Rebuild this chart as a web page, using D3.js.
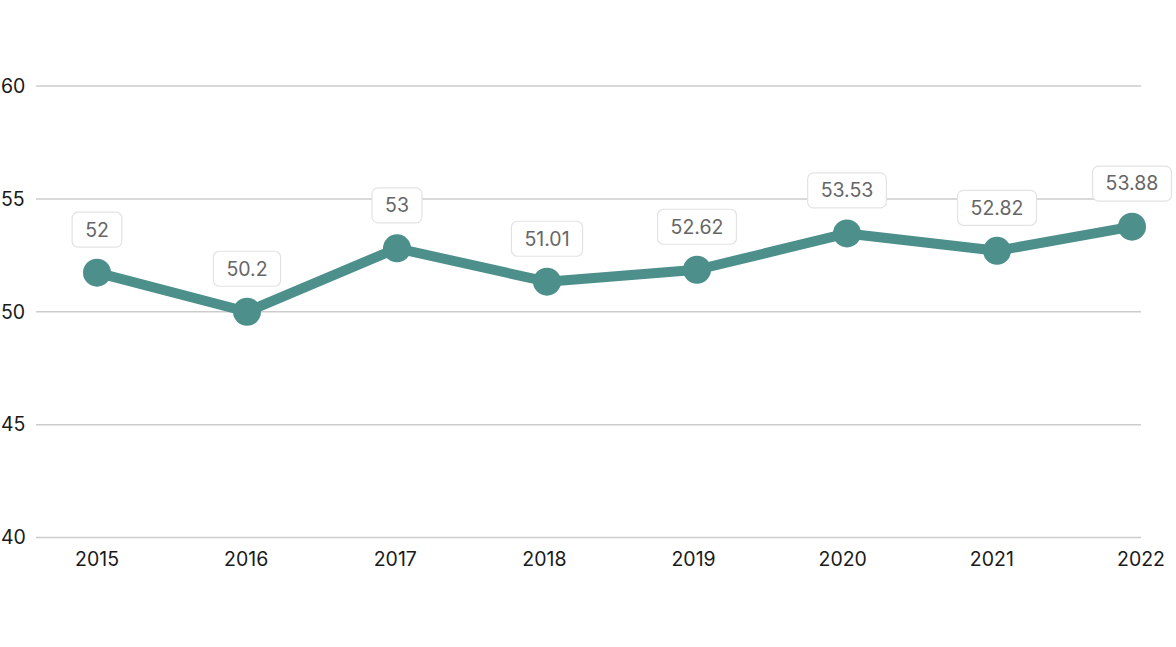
<!DOCTYPE html>
<html>
<head>
<meta charset="utf-8">
<script src="https://cdn.jsdelivr.net/npm/d3@7"></script>
<style>
  html, body { margin: 0; padding: 0; background: #fff; }
  svg { display: block; font-family: Inter, "Noto Sans", sans-serif; }
</style>
</head>
<body>
<svg id="chart" width="1176" height="647"></svg>
<script>
const years = ["2015", "2016", "2017", "2018", "2019", "2020", "2021", "2022"];
const plotted = [51.73, 50.0, 52.81, 51.33, 51.86, 53.47, 52.70, 53.77];
const labels = ["52", "50.2", "53", "51.01", "52.62", "53.53", "52.82", "53.88"];
const yTicks = [40, 45, 50, 55, 60];

const svg = d3.select("#chart");
const gridLeft = 36, gridRight = 1141;
const color = "#4c8f8b";

const y = d3.scaleLinear().domain([40, 60]).range([537.5, 86]);
const xTick = d3.scalePoint().domain(years).range([97, 1141]);
const xPt = d3.scalePoint().domain(years).range([97, 1147]);
const px = d => Math.min(xPt(d), gridRight - 9);

// grid + y labels
const g = svg.append("g");
g.selectAll("line.grid").data(yTicks).join("line")
  .attr("class", "grid")
  .attr("x1", gridLeft).attr("x2", gridRight)
  .attr("y1", d => y(d)).attr("y2", d => y(d))
  .attr("stroke", "#cccccc").attr("stroke-width", 1.5);
g.selectAll("text.ylab").data(yTicks).join("text")
  .attr("class", "ylab")
  .attr("x", 1).attr("y", d => y(d))
  .attr("dy", "0.35em")
  .attr("font-size", 19.5).attr("fill", "#1a1a1a")
  .text(d => d);

// x labels
svg.append("g").selectAll("text").data(years).join("text")
  .attr("x", d => xTick(d)).attr("y", 566)
  .attr("text-anchor", "middle")
  .attr("font-size", 19.5).attr("fill", "#1a1a1a")
  .text(d => d);

// line
const line = d3.line().x((d, i) => px(years[i])).y(d => y(d));
svg.append("path").datum(plotted)
  .attr("d", line)
  .attr("fill", "none").attr("stroke", color)
  .attr("stroke-width", 10).attr("stroke-linejoin", "round");

svg.append("g").selectAll("circle").data(plotted).join("circle")
  .attr("cx", (d, i) => px(years[i])).attr("cy", d => y(d))
  .attr("r", 14).attr("fill", color);

// data labels
const lg = svg.append("g").selectAll("g").data(plotted).join("g")
  .attr("transform", (d, i) => `translate(${px(years[i])},${y(d) - 43})`);
lg.append("text")
  .attr("text-anchor", "middle").attr("dy", "0.35em")
  .attr("font-size", 19.5).attr("fill", "#666")
  .text((d, i) => labels[i]);
lg.each(function() {
  const t = d3.select(this).select("text");
  const bb = t.node().getBBox();
  const w = bb.width + 26, h = 35;
  d3.select(this).insert("rect", "text")
    .attr("x", -w / 2).attr("y", -h / 2)
    .attr("width", w).attr("height", h)
    .attr("rx", 6).attr("fill", "#fff")
    .attr("stroke", "#e3e3e3").attr("stroke-width", 1.2);
});
</script>
</body>
</html>
